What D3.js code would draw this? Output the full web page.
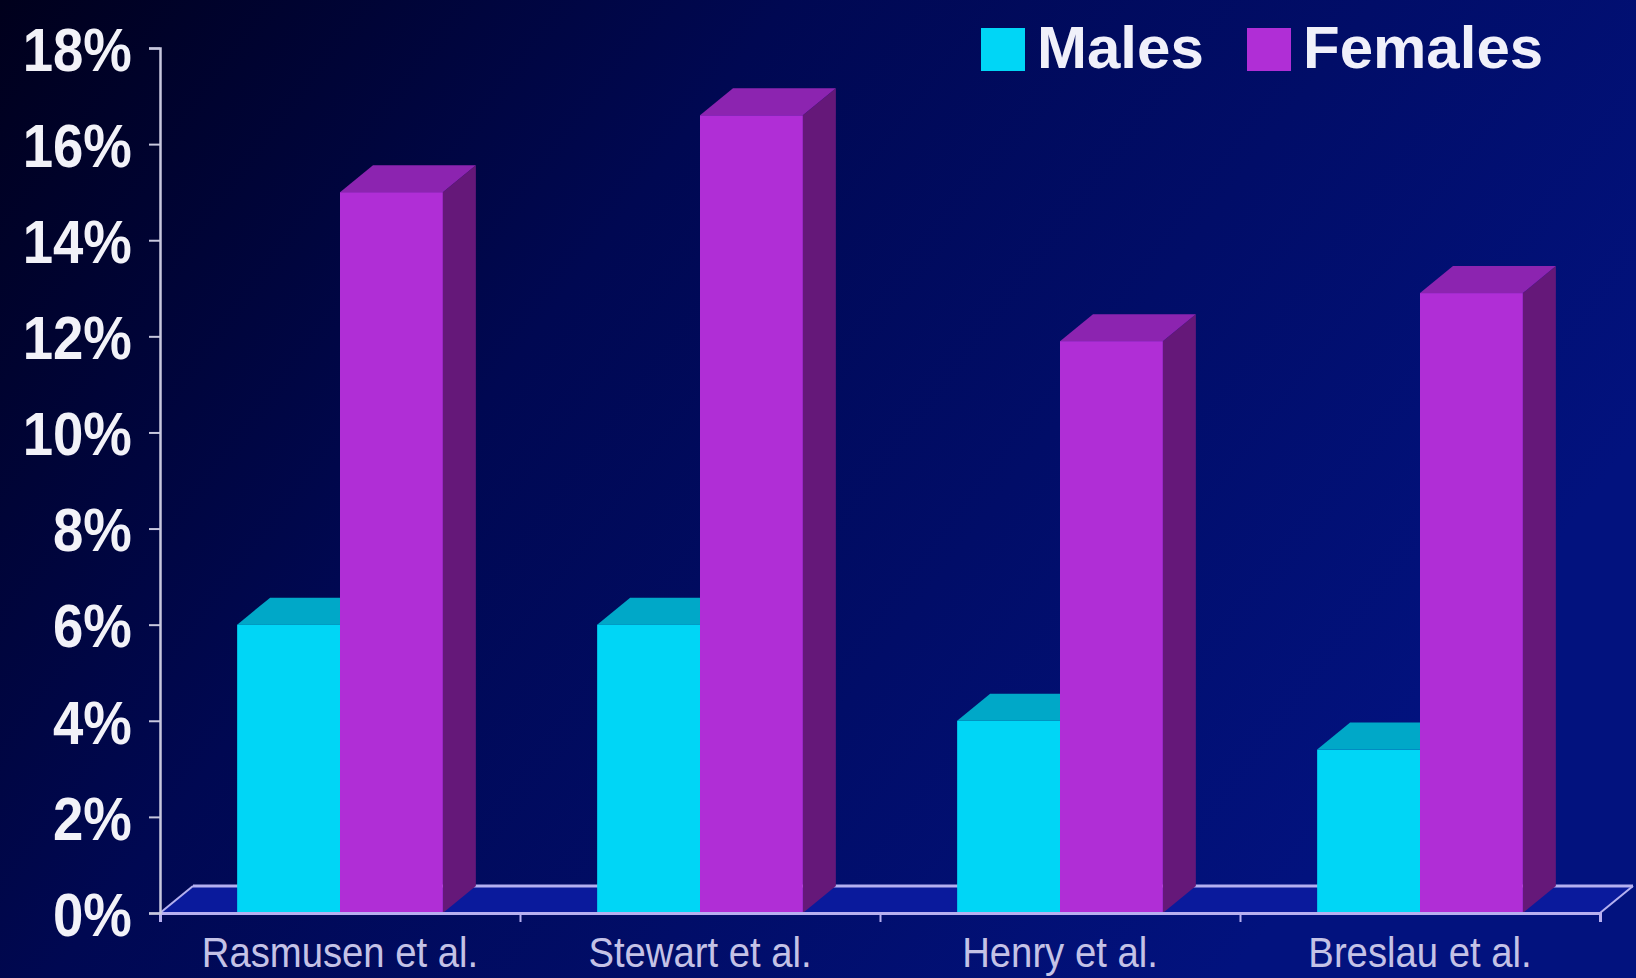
<!DOCTYPE html>
<html>
<head>
<meta charset="utf-8">
<script src="https://cdn.jsdelivr.net/npm/d3@7"></script>
<style>
  html, body { margin: 0; padding: 0; background: #00052e; }
  svg { display: block; }
</style>
</head>
<body>
<svg id="chart" width="1636" height="978"></svg>
<script>
// chart values
var categories = ["Rasmusen et al.", "Stewart et al.", "Henry et al.", "Breslau et al."];
var seriesNames = ["Males", "Females"];
var males = [6, 6, 4, 3.4];
var females = [15, 16.6, 11.9, 12.9];
var yTicks = [0, 2, 4, 6, 8, 10, 12, 14, 16, 18];

var W = 1636, H = 978;
var depthX = 33, depthY = -27;   // 3d offset of the bars and floor

var colors = {
  Males:   { front: "#00d6f6", top: "#00a8c8", side: "#0089a8" },
  Females: { front: "#b02ed6", top: "#8c24b0", side: "#651879" }
};

var svg = d3.select("#chart");

// background gradient
var defs = svg.append("defs");
var bg = defs.append("linearGradient").attr("id", "bg")
  .attr("x1", 0).attr("y1", 0).attr("x2", 1).attr("y2", 0.45);
bg.append("stop").attr("offset", "0%").attr("stop-color", "#00001c");
bg.append("stop").attr("offset", "40%").attr("stop-color", "#000852");
bg.append("stop").attr("offset", "100%").attr("stop-color", "#02127e");
svg.append("rect").attr("width", W).attr("height", H).attr("fill", "url(#bg)");

var x = d3.scaleBand().domain(categories).range([160, 1600]).padding(0);
var xs = d3.scaleBand().domain(seriesNames).range([0, x.bandwidth()])
  .paddingInner(0).paddingOuter(0.75);
var y = d3.scaleLinear().domain([0, 18]).range([913, 48]);

var y0 = y(0);
var xr = x.range();

// floor
var g = svg.append("g");
g.append("polygon")
  .attr("points", [[xr[0], y0], [xr[1], y0], [xr[1] + depthX, y0 + depthY], [xr[0] + depthX, y0 + depthY]].join(" "))
  .attr("fill", "#0a1a9c");
g.append("line")
  .attr("x1", xr[0] + depthX).attr("y1", y0 + depthY)
  .attr("x2", xr[1] + depthX).attr("y2", y0 + depthY)
  .attr("stroke", "#b4b0f0").attr("stroke-width", 3);
[xr[0], xr[1]].forEach(function(px) {
  g.append("line")
    .attr("x1", px).attr("y1", y0).attr("x2", px + depthX).attr("y2", y0 + depthY)
    .attr("stroke", "#b4b0f0").attr("stroke-width", 2);
});

// bars
var rows = [];
categories.forEach(function(c, i) {
  rows.push({ cat: c, s: "Males", v: males[i] });
  rows.push({ cat: c, s: "Females", v: females[i] });
});

var bar = g.selectAll("g.bar").data(rows).enter().append("g").attr("class", "bar");
bar.each(function(d) {
  var el = d3.select(this);
  var bx = x(d.cat) + xs(d.s), bw = xs.bandwidth(), top = y(d.v);
  var col = colors[d.s];
  el.append("polygon")
    .attr("points", [[bx + bw, top], [bx + bw + depthX, top + depthY], [bx + bw + depthX, y0 + depthY], [bx + bw, y0]].join(" "))
    .attr("fill", col.side);
  el.append("polygon")
    .attr("points", [[bx, top], [bx + depthX, top + depthY], [bx + bw + depthX, top + depthY], [bx + bw, top]].join(" "))
    .attr("fill", col.top);
  el.append("rect")
    .attr("x", bx).attr("y", top).attr("width", bw).attr("height", y0 - top)
    .attr("fill", col.front);
});

// x axis: boundary ticks + labels
var xb = d3.scaleLinear().domain([0, categories.length]).range(xr);
svg.append("g")
  .attr("transform", "translate(0," + y0 + ")")
  .call(d3.axisBottom(xb).ticks(categories.length).tickSize(9).tickFormat(""))
  .call(function(a) {
    a.select(".domain").attr("stroke", "#b8b0f0").attr("stroke-width", 3);
    a.selectAll(".tick line").attr("stroke", "#b8b0f0").attr("stroke-width", 2);
  });

svg.append("g")
  .attr("transform", "translate(0," + y0 + ")")
  .call(d3.axisBottom(x).tickSize(0).tickPadding(0))
  .call(function(a) {
    a.select(".domain").remove();
    a.selectAll("text")
      .attr("y", 0).attr("dy", 0)
      .attr("transform", "translate(0,54) scale(0.89,1)")
      .attr("fill", "#c4c2e6")
      .style("font-family", "'Liberation Sans', Arial, sans-serif")
      .style("font-size", "43px");
  });

// y axis
svg.append("g")
  .attr("transform", "translate(160,0)")
  .call(d3.axisLeft(y).tickValues(yTicks).tickSize(11).tickPadding(0).tickFormat(function(d) { return d + "%"; }))
  .call(function(a) {
    a.select(".domain").attr("stroke", "#c8c8de").attr("stroke-width", 2.5);
    a.selectAll(".tick line").attr("stroke", "#c8c8de").attr("stroke-width", 2);
    a.selectAll("text")
      .attr("x", -32).attr("dy", "0.36em")
      .attr("transform", "scale(0.88,1)")
      .attr("fill", "#f2f2f8")
      .style("font-family", "'Liberation Sans', Arial, sans-serif")
      .style("font-weight", "bold")
      .style("font-size", "62px");
  });

// legend
var legend = svg.append("g");
var legendX = [981, 1247];
seriesNames.forEach(function(s, i) {
  legend.append("rect")
    .attr("x", legendX[i]).attr("y", 28).attr("width", 44).attr("height", 43)
    .attr("fill", colors[s].front);
  legend.append("text")
    .attr("x", legendX[i] + 56).attr("y", 68)
    .attr("fill", "#f0f0fa")
    .style("font-family", "'Liberation Sans', Arial, sans-serif")
    .style("font-weight", "bold")
    .style("font-size", "60px")
    .text(s);
});
</script>
</body>
</html>
